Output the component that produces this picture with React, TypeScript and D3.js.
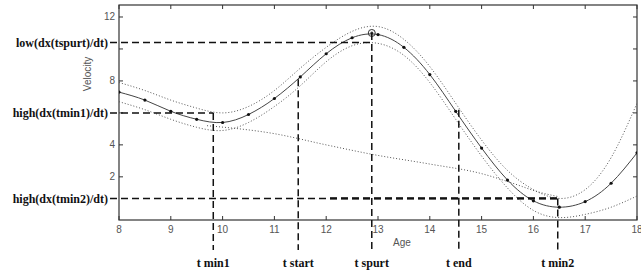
import React from "react";
import { scaleLinear, line, curveNatural, curveMonotoneX } from "d3";

// fitted velocity curve, sampled every half year
const ages = [8, 8.5, 9, 9.5, 10, 10.5, 11, 11.5, 12, 12.5, 13, 13.5, 14, 14.5, 15, 15.5, 16, 16.5, 17, 17.5, 18];
const velocity = [7.3, 6.8, 6.1, 5.6, 5.4, 5.9, 6.9, 8.25, 9.7, 10.7, 10.9, 10.1, 8.4, 6.1, 3.8, 1.8, 0.5, 0.1, 0.45, 1.6, 3.5];
const upperBand = [7.9, 7.4, 6.8, 6.3, 6.0, 6.4, 7.4, 8.8, 10.1, 11.1, 11.4, 10.6, 8.9, 6.6, 4.3, 2.4, 1.2, 0.65, 1.2, 3.2, 6.6];
const lowerBand = [6.7, 6.2, 5.6, 5.1, 4.9, 5.4, 6.4, 7.7, 9.2, 10.2, 10.35, 9.6, 7.9, 5.6, 3.3, 1.3, -0.1, -0.55, -0.35, 0.1, 0.8];

// prepubertal trend (dotted line from tmin1 to tmin2)
const trendAges = [9.7, 11, 12, 12.9, 14, 15, 15.6, 16.1, 16.5];
const trendVel = [5.2, 4.7, 4.0, 3.4, 2.8, 2.2, 1.6, 1.05, 0.75];

// milestones
const peakAge = 12.88;
const peakVel = 11.0;
const markers = [
  { label: "t min1", age: 9.82, top: 6.0 },
  { label: "t start", age: 11.46, top: 8.1 },
  { label: "t spurt", age: 12.88, top: 11.0 },
  { label: "t end", age: 14.56, top: 6.2 },
  { label: "t min2", age: 16.47, top: 0.65 },
];
const levels = [
  { label: "low(dx(tspurt)/dt)", value: 10.4, toAge: 12.88 },
  { label: "high(dx(tmin1)/dt)", value: 6.0, toAge: 9.82 },
  { label: "high(dx(tmin2)/dt)", value: 0.65, toAge: 16.47 },
];

const xTicks = [8, 9, 10, 11, 12, 13, 14, 15, 16, 17, 18];
const yTicks = [2, 4, 6, 8, 10, 12];
const yTickLabels = [2, 4, 8, 12];

const W = 641;
const H = 274;
const LEFT = 119;
const RIGHT = 637;
const TOP = 5;
const BOTTOM = 220;
const LABEL_END = 110;

export default function App() {
  const x = scaleLinear().domain([8, 18]).range([LEFT, RIGHT]);
  const y = scaleLinear().domain([-0.7, 12.75]).range([BOTTOM, TOP]);

  const mk = (vals: number[], xs: number[], curve: any) =>
    line<number>()
      .x((_, i) => x(xs[i]))
      .y((d) => y(d))
      .curve(curve)(vals)!;

  const axisColor = "#333";
  const tickFont = { fontFamily: "Liberation Sans, Arial, sans-serif", fontSize: 10, fill: "#555" };
  const annFont = { fontFamily: "Liberation Serif, Times New Roman, serif", fontSize: 12, fontWeight: "bold" as const, fill: "#111" };

  return (
    <svg width={W} height={H} style={{ position: "absolute", left: 0, top: 0, background: "#fff" }}>
      <defs>
        <clipPath id="plot">
          <rect x={LEFT} y={TOP} width={RIGHT - LEFT} height={BOTTOM - TOP} />
        </clipPath>
      </defs>

      {/* frame */}
      <rect x={LEFT} y={TOP} width={RIGHT - LEFT} height={BOTTOM - TOP} fill="none" stroke={axisColor} strokeWidth={1.2} />

      {xTicks.map((v) => (
        <g key={"x" + v}>
          <line x1={x(v)} x2={x(v)} y1={BOTTOM} y2={BOTTOM - 4} stroke={axisColor} />
          <line x1={x(v)} x2={x(v)} y1={TOP} y2={TOP + 4} stroke={axisColor} />
          <text x={x(v)} y={BOTTOM + 13} textAnchor="middle" {...tickFont}>
            {v}
          </text>
        </g>
      ))}
      {yTicks.map((v) => (
        <g key={"y" + v}>
          <line x1={LEFT} x2={LEFT + 4} y1={y(v)} y2={y(v)} stroke={axisColor} />
          <line x1={RIGHT} x2={RIGHT - 4} y1={y(v)} y2={y(v)} stroke={axisColor} />
        </g>
      ))}
      {yTickLabels.map((v) => (
        <text key={"yl" + v} x={LEFT - 4} y={y(v)} dy="0.35em" textAnchor="end" {...tickFont}>
          {v}
        </text>
      ))}
      <text x={402} y={246} textAnchor="middle" {...tickFont}>
        Age
      </text>
      <text transform="translate(91, 74) rotate(-90)" textAnchor="middle" {...tickFont}>
        Velocity
      </text>

      <g clipPath="url(#plot)">
        <path d={mk(upperBand, ages, curveNatural)} fill="none" stroke="#555" strokeWidth={1} strokeDasharray="1,2" />
        <path d={mk(lowerBand, ages, curveNatural)} fill="none" stroke="#555" strokeWidth={1} strokeDasharray="1,2" />
        <path d={mk(trendVel, trendAges, curveMonotoneX)} fill="none" stroke="#555" strokeWidth={1} strokeDasharray="1,2" />
        <path d={mk(velocity, ages, curveNatural)} fill="none" stroke="#444" strokeWidth={1} />
        {ages.map((a, i) => (
          <circle key={"d" + a} cx={x(a)} cy={y(velocity[i])} r={1.6} fill="#111" />
        ))}
      </g>
      <circle cx={x(peakAge)} cy={y(peakVel)} r={3.5} fill="none" stroke="#333" strokeWidth={1} />
      <circle cx={x(peakAge)} cy={y(peakVel)} r={1.5} fill="#333" />

      {/* horizontal annotation lines */}
      {levels.map((l) => (
        <g key={l.label}>
          <line x1={LABEL_END} x2={x(l.toAge)} y1={y(l.value)} y2={y(l.value)} stroke="#111" strokeWidth={1.5} strokeDasharray="7,4" />
          <rect x={2} y={y(l.value) - 8} width={108} height={16} fill="#fff" />
          <text x={108} y={y(l.value)} dy="0.35em" textAnchor="end" {...annFont}>
            {l.label}
          </text>
        </g>
      ))}
      {/* thicker overdrawn part of the tmin2 level, dashes kept in phase */}
      <line
        x1={x(12)}
        x2={x(16.47)}
        y1={y(0.65)}
        y2={y(0.65)}
        stroke="#111"
        strokeWidth={2.4}
        strokeDasharray="7,4"
        strokeDashoffset={(x(12) - LABEL_END) % 11}
      />

      {/* vertical annotation lines */}
      {markers.map((m) => (
        <g key={m.label}>
          <line x1={x(m.age)} x2={x(m.age)} y1={y(m.top)} y2={250} stroke="#111" strokeWidth={1.5} strokeDasharray="7,4" />
          <text x={x(m.age)} y={267} textAnchor="middle" {...annFont}>
            {m.label}
          </text>
        </g>
      ))}
    </svg>
  );
}
